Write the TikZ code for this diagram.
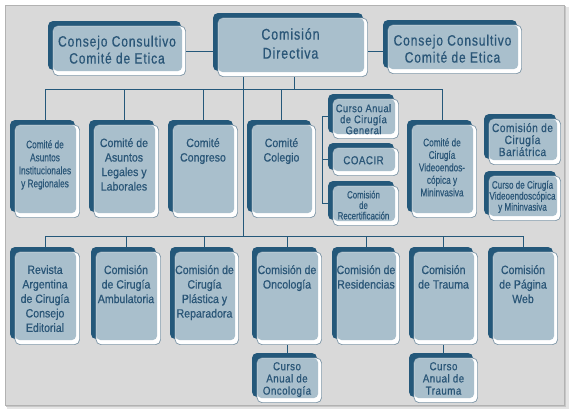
\documentclass[tikz,border=0pt]{standalone}
\usepackage{fontspec}
\setmainfont{Liberation Sans}[FakeStretch=0.88,FakeBold=0.6]
\newfontfamily\headfont{Liberation Sans}[FakeStretch=0.8,LetterSpace=6,FakeBold=0.6]
\newfontfamily\cursofont{Liberation Sans}[FakeStretch=0.85,LetterSpace=4,FakeBold=0.6]
\newfontfamily\narrowfont{Liberation Sans}[FakeStretch=0.75,FakeBold=0.4]
\usepackage{tikz}
\usetikzlibrary{positioning,fit,calc}
\definecolor{cDark}{HTML}{24587A}
\definecolor{cFace}{HTML}{A9BFCC}
\definecolor{cText}{HTML}{2A5677}
\definecolor{cLine}{HTML}{24587A}
\definecolor{cEdge}{HTML}{7D95A6}
\definecolor{cPanel}{HTML}{D9D9D9}
\pgfdeclarelayer{back}
\pgfsetlayers{back,main}
\tikzset{
  cbox/.style={rectangle,inner sep=0pt,outer sep=0pt,fill=cPanel,
    path picture={
      \fill[cDark,rounded corners=5pt] (path picture bounding box.north west)
        rectangle ([xshift=-5pt,yshift=6pt]path picture bounding box.south east);
      \filldraw[fill=white,draw=cEdge,line width=0.7pt,rounded corners=5pt]
        ([xshift=5pt,yshift=-5pt]path picture bounding box.north west)
        rectangle ([xshift=-0.4pt,yshift=0.4pt]path picture bounding box.south east);
      \fill[cFace,rounded corners=4pt] ([xshift=5.4pt,yshift=-5.4pt]path picture bounding box.north west)
        rectangle ([xshift=-4pt,yshift=5pt]path picture bounding box.south east);}},
  toptxt/.style={anchor=north,inner sep=0pt,align=center,text=cText,font=\fontsize{12}{14.5}\selectfont},
  hd/.style={toptxt,font=\headfont\fontsize{15}{17}\selectfont},
  curso/.style={toptxt,font=\cursofont\fontsize{11.5}{12.2}\selectfont},
  conn/.style={draw=cLine,line width=0.8pt}}
\begin{document}
\begin{tikzpicture}[x=1pt,y=-1pt]
\useasboundingbox (0,0) rectangle (570,410);
% panel
\begin{pgfonlayer}{back}
\fill[black!10] (7,7) rectangle (569,409);
\fill[black!22] (6,6) rectangle (566,407);
\filldraw[fill=cPanel,draw=black!30,line width=0.5pt] (5,5) rectangle (564,405);
\end{pgfonlayer}
% top row
\node[cbox,fit={(48,21)(186,76)}] (consL) {};
\node[cbox,fit={(213,13)(368,77)}] (direc) {};
\node[cbox,fit={(383,20)(522,74)}] (consR) {};
\node[hd] (consL-t) at ([yshift=-14.5pt]consL.north) {Consejo Consultivo\\Comité de Etica};
\node[hd,font=\headfont\fontsize{15.5}{19}\selectfont] (direc-t) at ([yshift=-15pt]direc.north) {Comisión\\Directiva};
\node[hd] (consR-t) at ([yshift=-14.5pt]consR.north) {Consejo Consultivo\\Comité de Etica};
% comites
\node[cbox,fit={(10,120)(80,218)}] (instit) {};
\node[cbox,fit={(89,120)(159,218)}] (legal) {};
\node[cbox,fit={(168,120)(238,218)}] (congr) {};
\node[cbox,fit={(247,120)(316,218)}] (coleg) {};
\node[cbox,fit={(407,120)(477,218)}] (video) {};
\node[toptxt,font=\narrowfont\fontsize{11}{13}\selectfont] (instit-t) at ([yshift=-20pt]instit.north) {Comité de\\Asuntos\\Institucionales\\y Regionales};
\node[toptxt] (legal-t) at ([yshift=-18pt]legal.north) {Comité de\\Asuntos\\Legales y\\Laborales};
\node[toptxt] (congr-t) at ([yshift=-18pt]congr.north) {Comité\\Congreso};
\node[toptxt] (coleg-t) at ([yshift=-18pt]coleg.north) {Comité\\Colegio};
\node[toptxt,font=\narrowfont\fontsize{11}{12.5}\selectfont] (video-t) at ([yshift=-18pt]video.north) {Comité de\\Cirugía\\Videoendos-\\cópica y\\Mininvasiva};
% colegio
\node[cbox,fit={(328,94)(399,139)}] (cagen) {};
\node[cbox,fit={(328,143)(399,176)}] (coacir) {};
\node[cbox,fit={(328,181)(399,226)}] (recert) {};
\node[curso,font=\cursofont\fontsize{11}{11}\selectfont] (cagen-t) at ([yshift=-10pt]cagen.north) {Curso Anual\\de Cirugía\\General};
\node[curso] (coacir-t) at ([yshift=-13pt]coacir.north) {COACIR};
\node[toptxt,font=\narrowfont\fontsize{10.5}{10.5}\selectfont] (recert-t) at ([yshift=-9.5pt]recert.north) {Comisión\\de\\Recertificación};
% bariatrica
\node[cbox,fit={(484,114)(561,165)}] (bari) {};
\node[cbox,fit={(484,171)(561,221)}] (cvideo) {};
\node[curso,font=\cursofont\fontsize{12}{12}\selectfont] (bari-t) at ([yshift=-9pt]bari.north) {Comisión de\\Cirugía\\Bariátrica};
\node[toptxt,font=\narrowfont\fontsize{10.8}{11}\selectfont] (cvideo-t) at ([yshift=-9.5pt]cvideo.north) {Curso de Cirugía\\Videoendoscópica\\y Mininvasiva};
% comisiones
\node[cbox,fit={(10,247)(80,345)}] (revista) {};
\node[cbox,fit={(91,247)(161,345)}] (ambul) {};
\node[cbox,fit={(170,247)(239,345)}] (plast) {};
\node[cbox,fit={(252,247)(322,345)}] (oncol) {};
\node[cbox,fit={(332,247)(400,345)}] (resid) {};
\node[cbox,fit={(409,247)(478,345)}] (trauma) {};
\node[cbox,fit={(488,247)(558,345)}] (web) {};
\node[toptxt] (revista-t) at ([yshift=-18pt]revista.north) {Revista\\Argentina\\de Cirugía\\Consejo\\Editorial};
\node[toptxt] (ambul-t) at ([yshift=-18pt]ambul.north) {Comisión\\de Cirugía\\Ambulatoria};
\node[toptxt] (plast-t) at ([yshift=-18pt]plast.north) {Comisión de\\Cirugía\\Plástica y\\Reparadora};
\node[toptxt] (oncol-t) at ([yshift=-18pt]oncol.north) {Comisión de\\Oncología};
\node[toptxt] (resid-t) at ([yshift=-18pt]resid.north) {Comisión de\\Residencias};
\node[toptxt] (trauma-t) at ([yshift=-18pt]trauma.north) {Comisión\\de Trauma};
\node[toptxt] (web-t) at ([yshift=-18pt]web.north) {Comisión\\de Página\\Web};
% cursos
\node[cbox,fit={(252,353)(322,403)}] (conc) {};
\node[cbox,fit={(409,353)(478,403)}] (ctrau) {};
\node[curso] (conc-t) at ([yshift=-9pt]conc.north) {Curso\\Anual de\\Oncología};
\node[curso] (ctrau-t) at ([yshift=-9pt]ctrau.north) {Curso\\Anual de\\Trauma};
% connectors
\begin{pgfonlayer}{back}
\coordinate (hline) at (0,51);
\coordinate (topbus) at (0,89);
\coordinate (lowbus) at (0,236);
\coordinate (trunk) at (243,236);
\coordinate (brk) at (322,0);
\draw[conn] (consL.east |- hline) -- (direc.west |- hline);
\draw[conn] (direc.east |- hline) -- (consR.west |- hline);
\draw[conn] (direc.south -| trunk) -- (trunk);
\draw[conn] (direc.south) ++(3.5,0) coordinate (dtap) -- (dtap |- topbus);
\draw[conn] (instit.north |- topbus) -- (video.north |- topbus);
\foreach \b in {instit,legal,congr,coleg,video}
  \draw[conn] (\b.north) -- (\b.north |- topbus);
\draw[conn] (revista.north |- lowbus) -- (web.north |- lowbus);
\foreach \b in {revista,ambul,plast,oncol,resid,trauma,web}
  \draw[conn] (\b.north) -- (\b.north |- lowbus);
\draw[conn] (cagen.west) -- (cagen.west -| brk) |- (recert.west);
\draw[conn] (coacir.west) -- (coacir.west -| brk);
\draw[conn] (oncol.south) -- (conc.north);
\draw[conn] (trauma.south) -- (ctrau.north);
\end{pgfonlayer}
\end{tikzpicture}
\end{document}
